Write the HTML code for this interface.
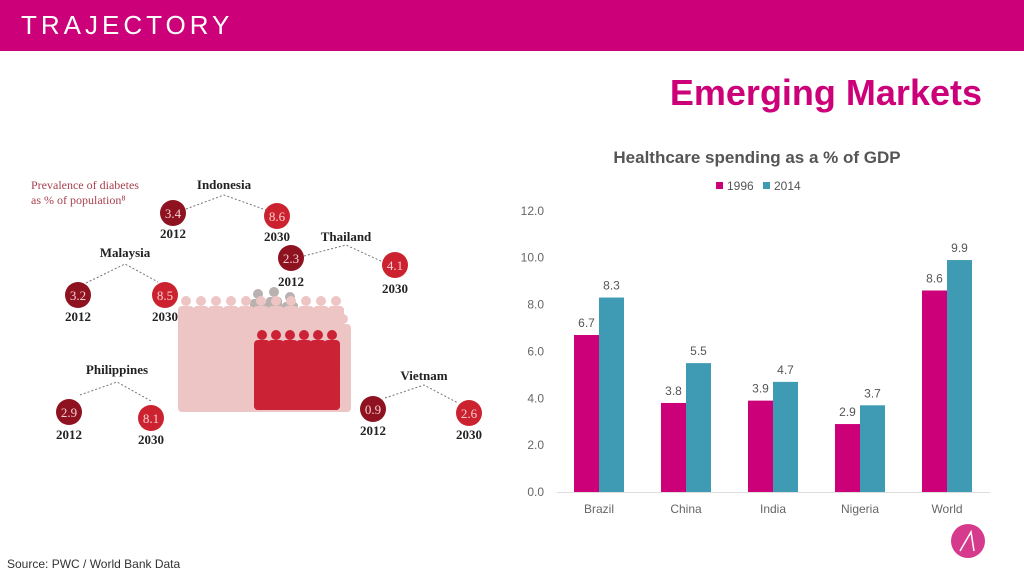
<!DOCTYPE html>
<html><head><meta charset="utf-8"><style>
body{margin:0;width:1024px;height:576px;overflow:hidden;background:#fff;font-family:"Liberation Sans",sans-serif;position:relative}
.hdr{position:absolute;left:0;top:0;width:1024px;height:51px;background:#CC0078}
.logo{position:absolute;left:21px;top:10px;color:#fff;font-size:26px;letter-spacing:4px;font-weight:normal}
.title{position:absolute;right:42px;top:72px;color:#CC0078;font-weight:bold;font-size:36px}
.src{position:absolute;left:7px;top:557px;font-size:12px;color:#333}
</style></head><body>
<div class="hdr"><div class="logo">TRAJECTORY</div></div>
<div class="title">Emerging Markets</div>
<div class="src">Source: PWC / World Bank Data</div>

<svg style="position:absolute;left:0;top:0" width="520" height="576" font-family="Liberation Serif, serif">
<text x="31" y="189" font-size="12" fill="#a8404f">Prevalence of diabetes</text>
<text x="31" y="204" font-size="12" fill="#a8404f">as % of population⁸</text>
<g id="crowd"></g>
<g font-weight="bold" font-size="13" fill="#222" text-anchor="middle">
<text x="224" y="189">Indonesia</text><text x="346" y="241">Thailand</text><text x="125" y="257">Malaysia</text><text x="117" y="374">Philippines</text><text x="424" y="380">Vietnam</text>
</g>
<g stroke="#777" stroke-dasharray="2,2" fill="none">
<path d="M186 209 L224 195 L266 210"/><path d="M304 256 L346 245 L383 262"/><path d="M86 283 L125 264 L158 282"/><path d="M80 395 L117 382 L151 401"/><path d="M385 398 L424 385 L458 403"/>
</g>
<g id="circles" font-size="13" text-anchor="middle"></g>
</svg>

<svg id="chart" style="position:absolute;left:0;top:0" width="1024" height="576" font-family="Liberation Sans, sans-serif">
<text x="757" y="163" font-size="17" font-weight="bold" fill="#555" text-anchor="middle">Healthcare spending as a % of GDP</text>
<g font-size="12" fill="#555">
<rect x="716" y="182" width="7" height="7" fill="#CC0078"/><text x="727" y="190">1996</text>
<rect x="763" y="182" width="7" height="7" fill="#3E9BB3"/><text x="774" y="190">2014</text>
</g>
<line x1="557" y1="492.5" x2="990" y2="492.5" stroke="#ddd"/>
<g id="plot"></g>
</svg>

<svg style="position:absolute;left:951px;top:524px" width="34" height="34">
<circle cx="17" cy="17" r="17" fill="#D63A8C"/><path d="M9 27 L20 8 L23 27" stroke="#fff" stroke-width="1.5" fill="none"/>
</svg>

<script>
const categories=["Brazil","China","India","Nigeria","World"];
const v1996=[6.7,3.8,3.9,2.9,8.6];
const v2014=[8.3,5.5,4.7,3.7,9.9];
const yTicks=[0,2,4,6,8,10,12];
const ns="http://www.w3.org/2000/svg";
const y=v=>492-v*23.43;
const xc=i=>599+i*87;
const plot=document.getElementById('plot');
function mk(tag,attrs,txt){const e=document.createElementNS(ns,tag);for(const k in attrs)e.setAttribute(k,attrs[k]);if(txt!==undefined)e.textContent=txt;plot.appendChild(e);return e;}
yTicks.forEach(t=>{
 const e=mk('text',{x:544,y:y(t)+4,'font-size':12,fill:'#666','text-anchor':'end'},t.toFixed(1));
 
 
});
categories.forEach((c,i)=>{
 const l=mk('text',{x:xc(i),y:513,'font-size':12,fill:'#666','text-anchor':'middle'},c);
 
 
 [[v1996[i],-25,'#CC0078'],[v2014[i],0,'#3E9BB3']].forEach(([v,off,col])=>{
  const b=mk('rect',{x:xc(i)+off,y:y(v),width:25,height:492-y(v),fill:col});
  
  
  const t=mk('text',{x:xc(i)+off+12.5,y:y(v)-8,'font-size':12,fill:'#555','text-anchor':'middle'},v.toFixed(1));
  
  
 });
});
// crowd decoration
const crowd=document.getElementById('crowd');
function person(x,top,col,h){
 const c=document.createElementNS(ns,'circle');c.setAttribute('cx',x);c.setAttribute('cy',top+5);c.setAttribute('r',5);c.setAttribute('fill',col);crowd.appendChild(c);
 const r=document.createElementNS(ns,'rect');r.setAttribute('x',x-8);r.setAttribute('y',top+10);r.setAttribute('width',16);r.setAttribute('height',h);r.setAttribute('rx',4);r.setAttribute('fill',col);crowd.appendChild(r);
}
[[258,289],[274,287],[290,292]].forEach(p=>person(p[0],p[1],'#b9b0b0',30));
for(let row=0;row<4;row++){for(let k=0;k<11;k++){const x=186+k*15+(row%2)*7;const top=296+row*18;if(x>348)continue;person(x,top,'#eec5c5',412-top-10);}}
for(let row=0;row<3;row++){for(let k=0;k<6;k++){const x=262+k*14+(row%2)*6;const top=330+row*16;if(x>336)continue;person(x,top,'#cc2235',412-top-12);}}
// infographic circles
const circ=[[173,213,"3.4","2012",233,1],[277,216,"8.6","2030",236,0],[291,258,"2.3","2012",281,1],[395,265,"4.1","2030",288,0],[78,295,"3.2","2012",316,1],[165,295,"8.5","2030",316,0],[69,412,"2.9","2012",434,1],[151,418,"8.1","2030",439,0],[373,409,"0.9","2012",430,1],[469,413,"2.6","2030",434,0]];
const g=document.getElementById('circles');
circ.forEach(([cx,cy,v,yr,ty,dark])=>{
 const c=document.createElementNS(ns,'circle');c.setAttribute('cx',cx);c.setAttribute('cy',cy);c.setAttribute('r',13);c.setAttribute('fill',dark?'#8e1220':'#cc2230');
 
 
 g.appendChild(c);
 const t=document.createElementNS(ns,'text');t.setAttribute('x',cx);t.setAttribute('y',cy+5);t.setAttribute('fill','#f4d0d0');t.textContent=v;g.appendChild(t);
 const t2=document.createElementNS(ns,'text');t2.setAttribute('x',cx);t2.setAttribute('y',ty+5);t2.setAttribute('font-weight','bold');t2.setAttribute('fill','#222');t2.textContent=yr;g.appendChild(t2);
});
</script>
</body></html>
